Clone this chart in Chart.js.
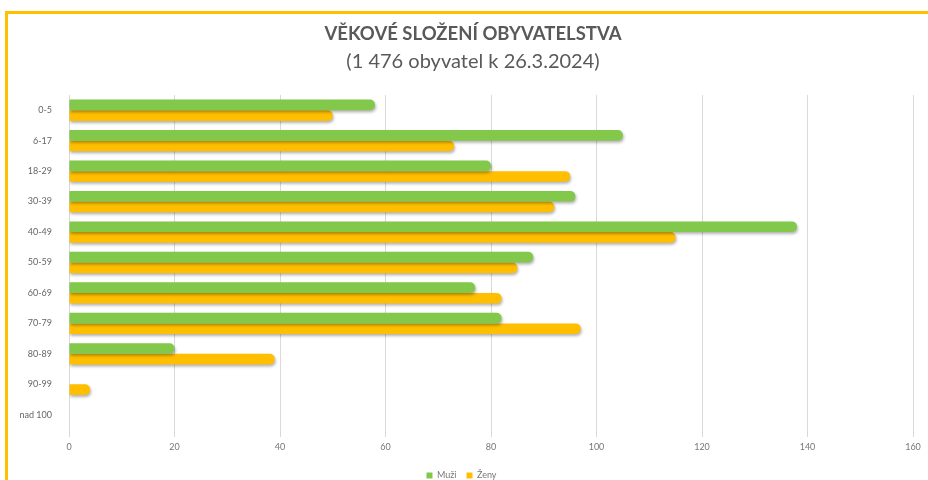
<!DOCTYPE html>
<html>
<head>
<meta charset="utf-8">
<script src="https://cdn.jsdelivr.net/npm/chart.js@4"></script>
<style>
  html, body { margin: 0; padding: 0; background: #fff; overflow: hidden; }
  #frame { position: absolute; left: 5px; top: 11px; width: 940px; height: 490px; border: 3px solid #ffc000; }
  #myChart { position: absolute; left: 0; top: 0; }
  .head { position: absolute; left: 273px; width: 400px; text-align: center; color: #595959; font-family: Lato, sans-serif; line-height: 1; }
  #title { top: 24px; font-size: 18.5px; font-weight: bold; }
  #subtitle { top: 50px; font-size: 20px; }
</style>
</head>
<body>
<div id="frame"></div>
<canvas id="myChart" width="928" height="480"></canvas>
<div class="head" id="title">VĚKOVÉ SLOŽENÍ OBYVATELSTVA</div>
<div class="head" id="subtitle">(1 476 obyvatel k 26.3.2024)</div>
<script>
  // vekove skupiny
  const labels = ['0-5', '6-17', '18-29', '30-39', '40-49', '50-59', '60-69', '70-79', '80-89', '90-99', 'nad 100'];
  const muzi = [58, 105, 80, 96, 138, 88, 77, 82, 20, 0, 0];
  const zeny = [50, 73, 95, 92, 115, 85, 82, 97, 39, 4, 0];
  const xTicks = [0, 20, 40, 60, 80, 100, 120, 140, 160];

  const shadow = {
    id: 'shadow',
    beforeDatasetsDraw(chart) {
      const ctx = chart.ctx;
      ctx.save();
      ctx.shadowColor = 'rgba(0,0,0,0.3)';
      ctx.shadowBlur = 3;
      ctx.shadowOffsetX = 1;
      ctx.shadowOffsetY = 2;
    },
    afterDatasetsDraw(chart) {
      chart.ctx.restore();
    }
  };

  const data = {
    labels: labels,
    datasets: [{
      label: 'Muži',
      backgroundColor: '#82c84a',
      data: muzi,
      borderRadius: 5
    }, {
      label: 'Ženy',
      backgroundColor: '#ffbf00',
      data: zeny,
      borderRadius: 5
    }]
  };

  const config = {
    type: 'bar',
    data: data,
    plugins: [shadow],
    options: {
      indexAxis: 'y',
      responsive: false,
      animation: false,
      categoryPercentage: 0.7,
      barPercentage: 1,
      layout: { padding: { left: 10, right: 15, top: 95, bottom: -10 } },
      plugins: {
        legend: {
          position: 'bottom',
          labels: {
            boxWidth: 6, boxHeight: 6, padding: 10,
            color: '#777', font: { family: 'Lato', size: 9 }
          }
        },
        tooltip: { enabled: false }
      },
      scales: {
        x: {
          min: 0, max: 160,
          afterBuildTicks(axis) { axis.ticks = xTicks.map(v => ({ value: v })); },
          afterFit(axis) { axis.height = 31; },
          grid: { color: '#d9d9d9', tickLength: 7 },
          border: { display: false },
          ticks: { color: '#777', font: { family: 'Lato', size: 9 }, padding: 5 }
        },
        y: {
          afterFit(axis) { axis.width = 59; },
          grid: { display: false },
          border: { display: false },
          ticks: { color: '#666', font: { family: 'Lato', size: 9 }, padding: 9 }
        }
      }
    }
  };

  const myChart = new Chart(document.getElementById('myChart'), config);
</script>
</body>
</html>
